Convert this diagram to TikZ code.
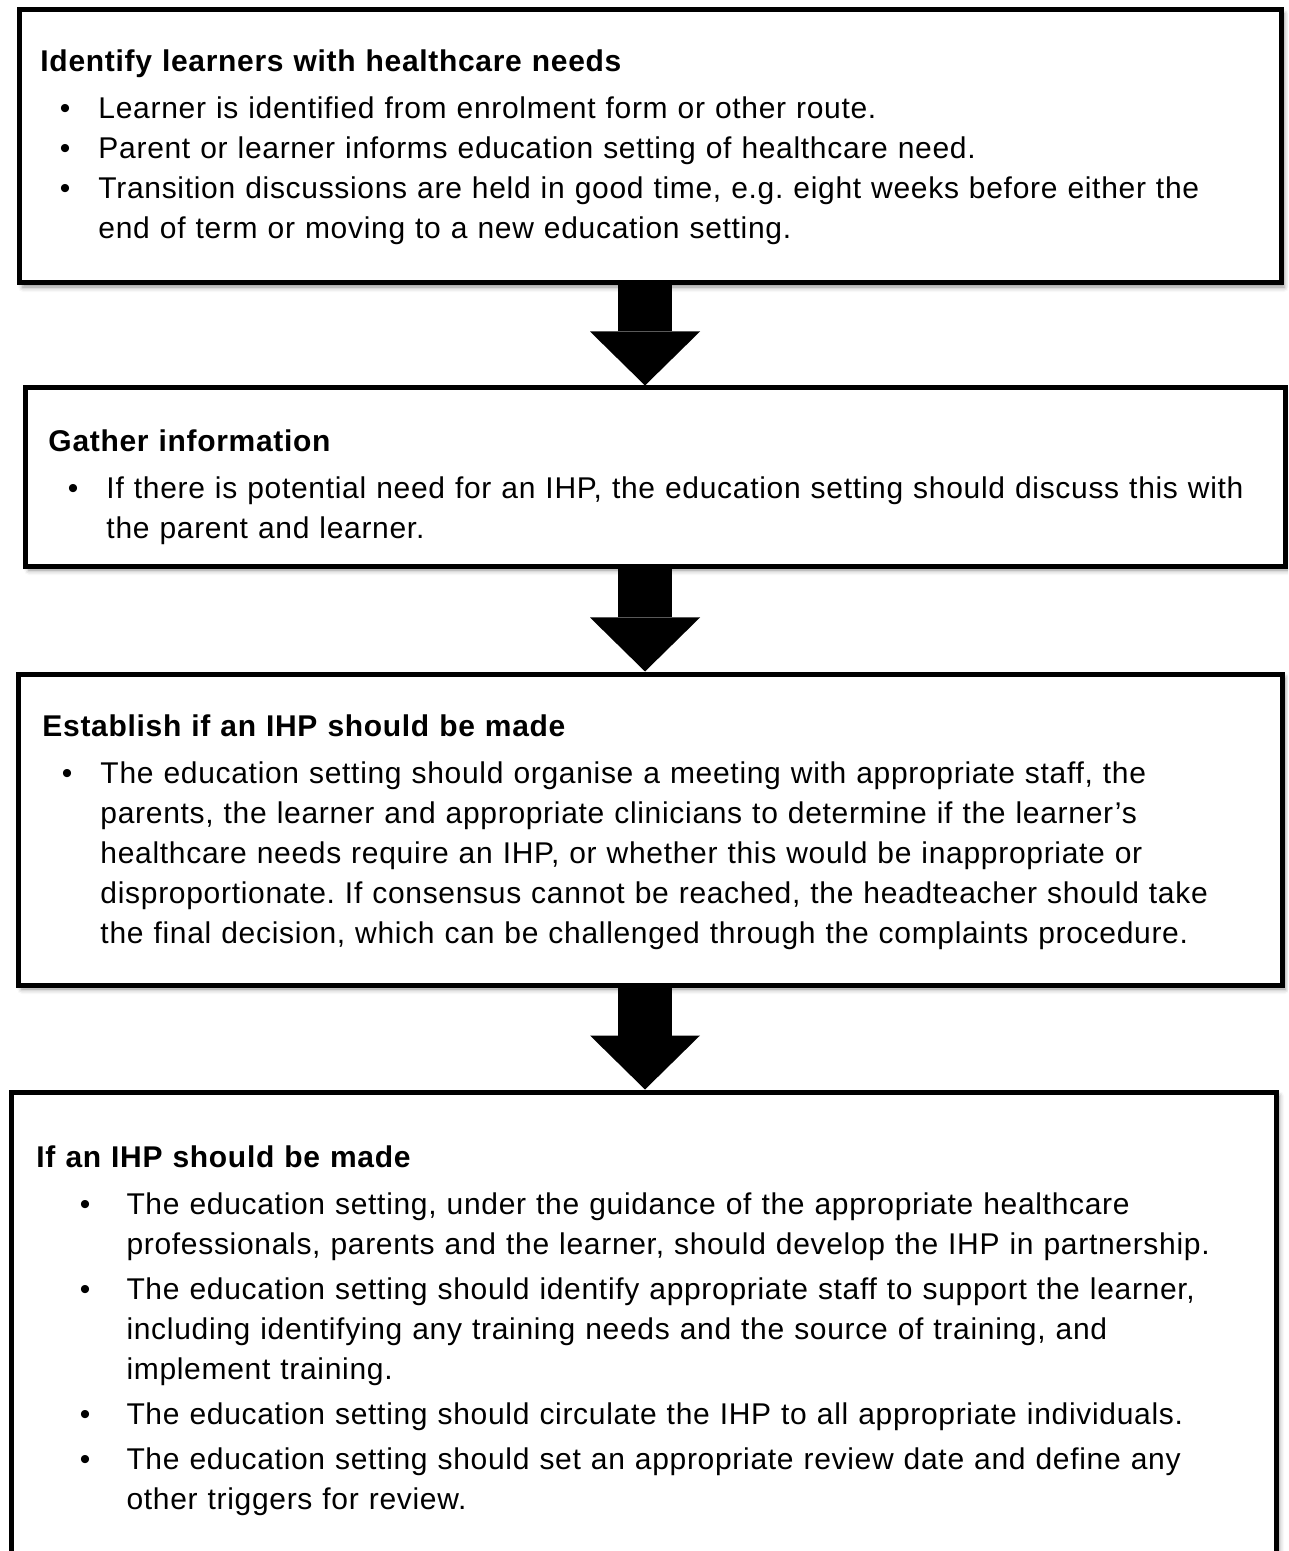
\documentclass[tikz,border=0pt]{standalone}
\usepackage{fontspec}
\setmainfont{Liberation Sans}[LetterSpace=2.3]
\usepackage{tikz}
\usetikzlibrary{arrows.meta, shadows.blur}

% bullet list used inside the step boxes
\newenvironment{stepitems}[3]{%
  \begin{list}{\textbullet}{%
    \setlength{\leftmargin}{#1}%
    \setlength{\labelsep}{#2}%
    \setlength{\labelwidth}{\dimexpr#1-#2\relax}%
    \setlength{\itemsep}{#3}%
    \setlength{\parsep}{0pt}%
    \setlength{\topsep}{2.8pt}%
    \setlength{\partopsep}{0pt}}}%
  {\end{list}}
\frenchspacing

\begin{document}
\begin{tikzpicture}[x=0.4pt, y=-0.4pt, every node/.style={inner sep=0pt},
    stepbox/.style={draw, line width=2pt, fill=white,
        blur shadow={shadow xshift=1.2pt, shadow yshift=-1.6pt, shadow blur radius=2pt, shadow opacity=45}},
    steptext/.style={anchor=base west, text width=500pt, align=left, font=\fontsize{12}{16}\selectfont},
    bigarrow/.style={line width=21.6pt, -{Triangle[width=44pt, length=21.6pt, line width=0pt]}}]

    \useasboundingbox (0,0) rectangle (1288,1551);
    \clip (0,0) rectangle (1288,1551);

    % Step 1: Identify learners
    \node[stepbox, minimum width=504.4pt, minimum height=109.2pt] (b1) at (650.5, 146.5) {};
    \node[steptext] (t1) at (40, 72) {\textbf{Identify learners with healthcare needs}
        \begin{stepitems}{23.2pt}{11.2pt}{0pt}
            \item Learner is identified from enrolment form or other route.
            \item Parent or learner informs education setting of healthcare need.
            \item Transition discussions are held in good time, e.g. eight weeks before either the\\
                end of term or moving to a new education setting.
        \end{stepitems}};

    % Step 2: Gather information
    \node[stepbox, minimum width=503.6pt, minimum height=71.2pt] (b2) at (655.5, 477) {};
    \node[steptext] (t2) at (48, 451) {\textbf{Gather information}
        \begin{stepitems}{23.2pt}{11.2pt}{0pt}
            \item If there is potential need for an IHP, the education setting should discuss this with\\
                the parent and learner.
        \end{stepitems}};

    % Step 3: Establish if an IHP should be made
    \node[stepbox, minimum width=505.2pt, minimum height=124.4pt] (b3) at (650.5, 829.5) {};
    \node[steptext] (t3) at (42, 736) {\textbf{Establish if an IHP should be made}
        \begin{stepitems}{23.2pt}{11.2pt}{0pt}
            \item The education setting should organise a meeting with appropriate staff, the\\
                parents, the learner and appropriate clinicians to determine if the learner’s\\
                healthcare needs require an IHP, or whether this would be inappropriate or\\
                disproportionate. If consensus cannot be reached, the headteacher should take\\
                the final decision, which can be challenged through the complaints procedure.
        \end{stepitems}};

    % Step 4: If an IHP should be made (box runs off the page)
    \node[stepbox, minimum width=505.6pt, minimum height=219.2pt] (b4) at (644, 1366) {};
    \node[steptext] (t4) at (36, 1167) {\textbf{If an IHP should be made}
        \begin{stepitems}{36pt}{14.4pt}{2pt}
            \item The education setting, under the guidance of the appropriate healthcare\\
                professionals, parents and the learner, should develop the IHP in partnership.
            \item The education setting should identify appropriate staff to support the learner,\\
                including identifying any training needs and the source of training, and\\
                implement training.
            \item The education setting should circulate the IHP to all appropriate individuals.
            \item The education setting should set an appropriate review date and define any\\
                other triggers for review.
        \end{stepitems}};

    % Arrows between the steps
    \coordinate (ax) at (645, 0);
    \draw[bigarrow] (b1.south -| ax) -- (b2.north -| ax);
    \draw[bigarrow] (b2.south -| ax) -- (b3.north -| ax);
    \draw[bigarrow] (b3.south -| ax) -- (b4.north -| ax);

\end{tikzpicture}
\end{document}
